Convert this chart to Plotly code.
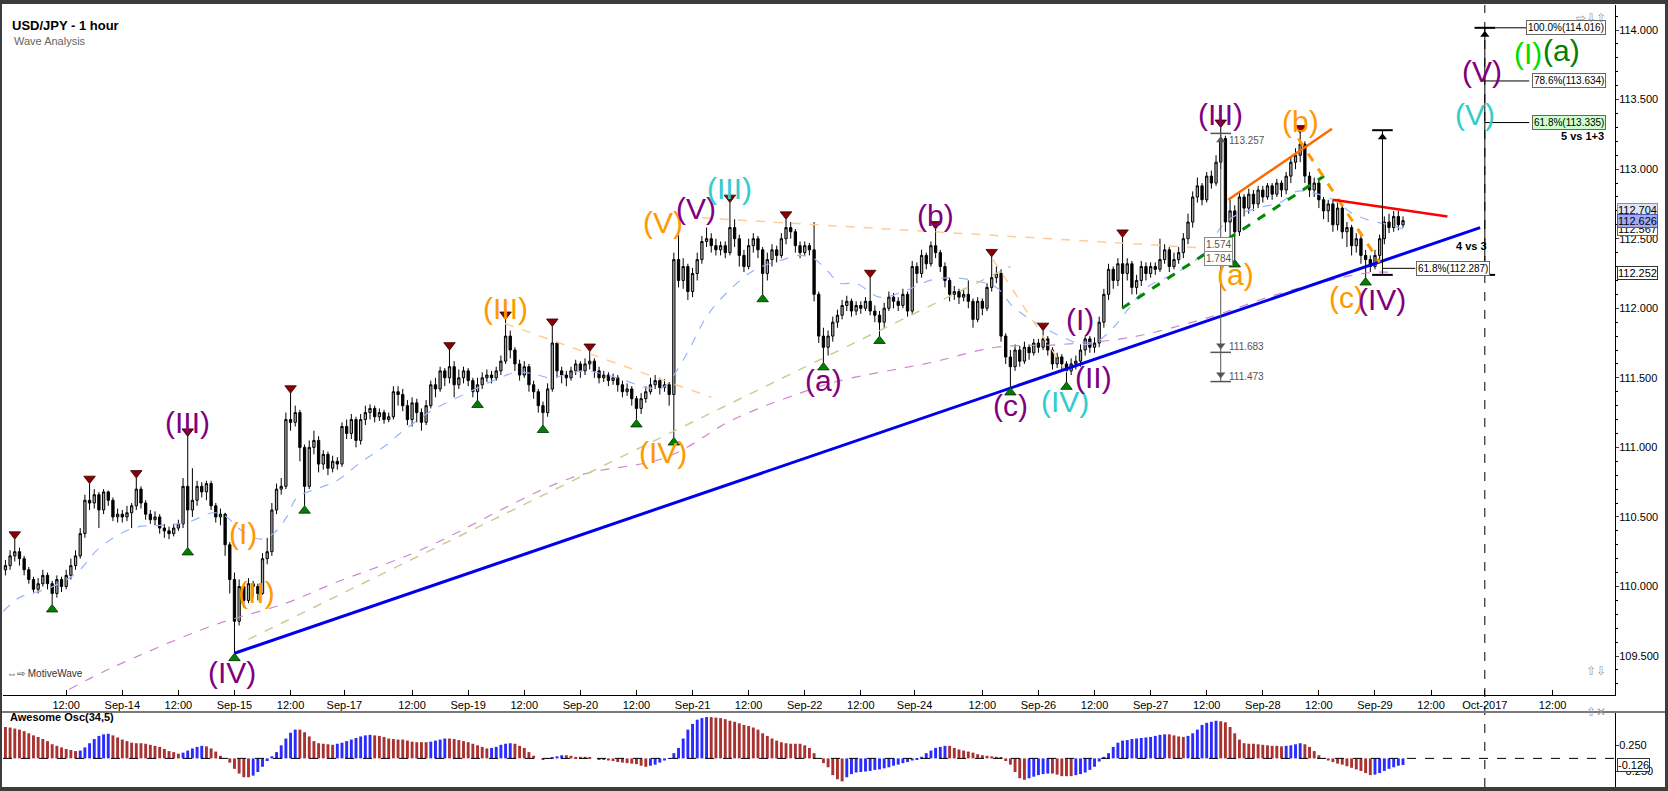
import plotly.graph_objects as go

# Chart size and plot-area margins (px)
W, H = 1668, 791
ML, MR = 3, 53

# ---------------- data ----------------
# hourly bars, hour 0 = Sep-14 00:00 (trading time, weekend gap removed)
first_hour = -25
first_open = 110.12

closes = [
    110.15, 110.22, 110.25, 110.20, 110.12, 110.05, 109.98, 110.02, 110.08, 110.02, 109.95, 110.05,
    110.00, 110.08, 110.15, 110.22, 110.38, 110.62, 110.60, 110.66, 110.55, 110.68, 110.62, 110.50,
    110.52, 110.50, 110.53, 110.58, 110.70, 110.60, 110.52, 110.48, 110.50, 110.42, 110.40, 110.38,
    110.42, 110.45, 110.72, 110.55, 110.62, 110.72, 110.68, 110.74, 110.58, 110.50, 110.52, 110.30,
    110.05, 109.75, 110.00, 109.90, 110.02, 110.00, 109.95, 110.20, 110.25, 110.55, 110.70, 110.72,
    111.20, 111.18, 111.25, 111.00, 110.72, 111.00, 111.05, 110.88, 110.95, 110.85, 110.90, 110.88,
    111.15, 111.10, 111.20, 111.05, 111.20, 111.25, 111.28, 111.22, 111.25, 111.20, 111.22, 111.40,
    111.38, 111.30, 111.20, 111.32, 111.25, 111.18, 111.30, 111.45, 111.42, 111.55, 111.50, 111.58,
    111.45, 111.50, 111.55, 111.48, 111.40, 111.45, 111.50, 111.52, 111.50, 111.55, 111.62, 111.80,
    111.70, 111.60, 111.52, 111.58, 111.45, 111.40, 111.30, 111.25, 111.42, 111.75, 111.55, 111.52,
    111.50, 111.55, 111.60, 111.55, 111.60, 111.62, 111.55, 111.50, 111.52, 111.48, 111.50, 111.45,
    111.40, 111.42, 111.35, 111.28, 111.35, 111.40, 111.45, 111.48, 111.43, 111.45, 111.38, 112.35,
    112.20, 112.30, 112.12, 112.25, 112.35, 112.48, 112.50, 112.45, 112.42, 112.45, 112.40, 112.58,
    112.50, 112.38, 112.30, 112.45, 112.50, 112.42, 112.25, 112.35, 112.42, 112.38, 112.50, 112.58,
    112.55, 112.45, 112.40, 112.45, 112.42, 112.10, 111.80, 111.72, 111.80, 111.90, 111.95, 112.02,
    112.05, 111.98, 112.02, 112.00, 112.05, 111.98, 111.95, 111.90, 112.00, 112.08, 112.05, 112.02,
    112.10, 111.98, 112.30, 112.25, 112.38, 112.32, 112.45, 112.40, 112.30, 112.20, 112.10, 112.12,
    112.08, 112.10, 112.05, 111.92, 112.05, 112.00, 112.15, 112.22, 112.25, 111.80, 111.65, 111.58,
    111.70, 111.62, 111.72, 111.68, 111.75, 111.72, 111.78, 111.70, 111.60, 111.65, 111.60, 111.55,
    111.60, 111.62, 111.70, 111.78, 111.72, 111.75, 111.90, 112.10, 112.28, 112.20, 112.32, 112.25,
    112.32, 112.15, 112.20, 112.30, 112.25, 112.30, 112.28, 112.35, 112.42, 112.30, 112.35, 112.40,
    112.50, 112.62, 112.80, 112.88, 112.78, 112.95, 112.90, 113.05, 113.22, 112.62, 112.70, 112.55,
    112.80, 112.72, 112.82, 112.75, 112.85, 112.80, 112.88, 112.82, 112.90, 112.85, 112.95, 113.05,
    113.10, 113.18, 112.95, 112.85, 112.90, 112.78, 112.70, 112.75, 112.60, 112.72, 112.55, 112.58,
    112.45, 112.50, 112.38, 112.35, 112.30, 112.38, 112.50, 112.62, 112.58, 112.66, 112.60, 112.63,
]
highs = [
    110.19, 110.26, 110.34, 110.28, 110.22, 110.14, 110.07, 110.06, 110.12, 110.10, 110.04, 110.08,
    110.07, 110.12, 110.20, 110.26, 110.42, 110.66, 110.74, 110.70, 110.68, 110.70, 110.69, 110.64,
    110.56, 110.55, 110.58, 110.60, 110.78, 110.72, 110.62, 110.55, 110.54, 110.52, 110.45, 110.43,
    110.45, 110.48, 110.78, 111.08, 110.85, 110.76, 110.75, 110.76, 110.76, 110.60, 110.56, 110.53,
    110.32, 110.10, 110.05, 110.02, 110.06, 110.04, 110.02, 110.24, 110.35, 110.60, 110.74, 110.78,
    111.25, 111.39, 111.30, 111.27, 111.02, 111.05, 111.12, 111.08, 110.98, 110.97, 110.94, 110.93,
    111.18, 111.20, 111.24, 111.22, 111.24, 111.30, 111.31, 111.30, 111.28, 111.27, 111.25, 111.44,
    111.44, 111.42, 111.34, 111.36, 111.35, 111.28, 111.34, 111.48, 111.50, 111.58, 111.57, 111.70,
    111.62, 111.56, 111.58, 111.57, 111.50, 111.50, 111.54, 111.56, 111.55, 111.58, 111.66, 111.92,
    111.84, 111.72, 111.63, 111.62, 111.60, 111.48, 111.42, 111.33, 111.46, 111.87, 111.76, 111.58,
    111.55, 111.58, 111.63, 111.62, 111.64, 111.69, 111.64, 111.58, 111.55, 111.54, 111.53, 111.52,
    111.48, 111.46, 111.44, 111.37, 111.39, 111.44, 111.50, 111.52, 111.50, 111.49, 111.47, 112.40,
    112.53, 112.36, 112.32, 112.29, 112.40, 112.52, 112.58, 112.54, 112.50, 112.48, 112.48, 112.76,
    112.64, 112.53, 112.42, 112.50, 112.54, 112.52, 112.44, 112.40, 112.46, 112.45, 112.54, 112.64,
    112.62, 112.57, 112.48, 112.48, 112.47, 112.62, 112.12, 111.86, 111.84, 111.94, 111.99, 112.06,
    112.09, 112.07, 112.05, 112.05, 112.08, 112.22, 112.02, 111.98, 112.04, 112.12, 112.11, 112.08,
    112.14, 112.12, 112.34, 112.33, 112.42, 112.40, 112.48, 112.57, 112.42, 112.33, 112.22, 112.16,
    112.14, 112.14, 112.20, 112.07, 112.08, 112.07, 112.18, 112.37, 112.30, 112.28, 111.82, 111.70,
    111.74, 111.73, 111.76, 111.74, 111.78, 111.78, 111.84, 111.80, 111.72, 111.68, 111.67, 111.62,
    111.64, 111.66, 111.74, 111.80, 111.80, 111.79, 111.94, 112.14, 112.32, 112.30, 112.36, 112.51,
    112.36, 112.34, 112.24, 112.34, 112.33, 112.33, 112.33, 112.50, 112.46, 112.44, 112.40, 112.44,
    112.54, 112.68, 112.84, 112.94, 112.90, 112.98, 112.99, 113.10, 113.30, 113.24, 112.78, 112.74,
    112.84, 112.82, 112.86, 112.85, 112.88, 112.88, 112.90, 112.90, 112.93, 112.92, 112.98, 113.09,
    113.15, 113.26, 113.20, 112.98, 112.94, 112.92, 112.80, 112.78, 112.78, 112.76, 112.74, 112.62,
    112.60, 112.54, 112.52, 112.42, 112.38, 112.42, 112.53, 112.66, 112.68, 112.70, 112.70, 112.66,
]
lows = [
    110.08, 110.12, 110.18, 110.15, 110.08, 110.02, 109.95, 109.95, 110.00, 109.98, 109.87, 109.92,
    109.96, 109.98, 110.05, 110.12, 110.20, 110.35, 110.55, 110.56, 110.42, 110.52, 110.58, 110.47,
    110.46, 110.46, 110.47, 110.42, 110.55, 110.56, 110.48, 110.45, 110.44, 110.38, 110.35, 110.34,
    110.36, 110.40, 110.42, 110.28, 110.50, 110.58, 110.64, 110.62, 110.55, 110.46, 110.44, 110.22,
    109.95, 109.52, 109.72, 109.85, 109.88, 109.92, 109.90, 109.94, 110.16, 110.22, 110.52, 110.66,
    110.70, 111.12, 111.15, 110.90, 110.58, 110.70, 110.95, 110.82, 110.84, 110.80, 110.82, 110.84,
    110.86, 111.06, 111.06, 111.00, 111.02, 111.16, 111.20, 111.18, 111.19, 111.17, 111.18, 111.20,
    111.30, 111.26, 111.16, 111.15, 111.18, 111.12, 111.16, 111.28, 111.36, 111.40, 111.44, 111.46,
    111.36, 111.42, 111.46, 111.44, 111.36, 111.34, 111.42, 111.47, 111.46, 111.48, 111.52, 111.60,
    111.64, 111.55, 111.48, 111.50, 111.40, 111.35, 111.25, 111.16, 111.22, 111.40, 111.50, 111.46,
    111.44, 111.48, 111.52, 111.50, 111.52, 111.56, 111.50, 111.46, 111.47, 111.44, 111.45, 111.40,
    111.36, 111.37, 111.30, 111.20, 111.24, 111.32, 111.38, 111.42, 111.38, 111.40, 111.30, 111.07,
    112.15, 112.14, 112.06, 112.08, 112.20, 112.32, 112.44, 112.40, 112.38, 112.38, 112.36, 112.38,
    112.44, 112.30, 112.26, 112.28, 112.40, 112.36, 112.10, 112.20, 112.30, 112.33, 112.36, 112.46,
    112.50, 112.40, 112.36, 112.38, 112.38, 112.05, 111.75, 111.61, 111.66, 111.76, 111.86, 111.92,
    111.98, 111.94, 111.95, 111.96, 111.98, 111.95, 111.90, 111.80, 111.86, 111.98, 112.00, 111.98,
    112.00, 111.94, 111.96, 112.18, 112.22, 112.28, 112.30, 112.36, 112.26, 112.15, 112.05, 112.06,
    112.03, 112.05, 112.00, 111.86, 111.90, 111.95, 111.98, 112.12, 112.18, 111.76, 111.60, 111.43,
    111.55, 111.58, 111.60, 111.63, 111.66, 111.68, 111.70, 111.66, 111.56, 111.57, 111.56, 111.47,
    111.52, 111.56, 111.58, 111.66, 111.68, 111.68, 111.72, 111.86, 112.06, 112.14, 112.16, 112.00,
    112.20, 112.10, 112.10, 112.16, 112.20, 112.22, 112.24, 112.26, 112.32, 112.26, 112.28, 112.32,
    112.36, 112.46, 112.58, 112.76, 112.74, 112.76, 112.86, 112.88, 113.00, 112.55, 112.40, 112.35,
    112.52, 112.66, 112.68, 112.70, 112.72, 112.76, 112.78, 112.78, 112.80, 112.80, 112.82, 112.90,
    113.00, 113.05, 112.90, 112.80, 112.80, 112.72, 112.64, 112.62, 112.55, 112.56, 112.50, 112.44,
    112.38, 112.40, 112.32, 112.22, 112.26, 112.28, 112.34, 112.46, 112.54, 112.55, 112.56, 112.58,
]

# Awesome Oscillator (34,5), one value per bar
ao_values = [
    0.60, 0.59, 0.57, 0.55, 0.52, 0.48, 0.44, 0.41, 0.37, 0.33,
    0.27, 0.24, 0.21, 0.18, 0.16, 0.14, 0.15, 0.21, 0.29, 0.37,
    0.43, 0.46, 0.47, 0.44, 0.40, 0.36, 0.33, 0.30, 0.29, 0.29,
    0.28, 0.26, 0.24, 0.22, 0.18, 0.14, 0.12, 0.09, 0.11, 0.15,
    0.19, 0.22, 0.24, 0.23, 0.19, 0.13, 0.05, 0.00, -0.08, -0.20,
    -0.29, -0.36, -0.36, -0.33, -0.26, -0.16, -0.05, 0.04, 0.12, 0.25,
    0.38, 0.49, 0.55, 0.55, 0.50, 0.42, 0.33, 0.29, 0.28, 0.27,
    0.26, 0.28, 0.30, 0.33, 0.36, 0.39, 0.42, 0.44, 0.45, 0.44,
    0.43, 0.41, 0.38, 0.37, 0.36, 0.36, 0.34, 0.32, 0.31, 0.31,
    0.31, 0.32, 0.34, 0.36, 0.38, 0.38, 0.37, 0.35, 0.33, 0.31,
    0.28, 0.25, 0.22, 0.19, 0.20, 0.22, 0.26, 0.28, 0.29, 0.28,
    0.24, 0.20, 0.12, 0.05, 0.00, -0.02, -0.01, 0.01, 0.04, 0.06,
    0.06, 0.05, 0.03, 0.03, 0.03, 0.02, 0.00, -0.02, -0.03, -0.04,
    -0.05, -0.07, -0.08, -0.09, -0.10, -0.11, -0.14, -0.16, -0.14, -0.12,
    -0.08, -0.04, -0.01, 0.10, 0.20, 0.38, 0.55, 0.66, 0.74, 0.77,
    0.79, 0.79, 0.78, 0.77, 0.75, 0.72, 0.70, 0.67, 0.64, 0.62,
    0.59, 0.55, 0.48, 0.43, 0.38, 0.34, 0.31, 0.29, 0.28, 0.28,
    0.28, 0.25, 0.20, 0.10, 0.00, -0.09, -0.17, -0.32, -0.40, -0.44,
    -0.36, -0.30, -0.27, -0.26, -0.25, -0.24, -0.22, -0.21, -0.19, -0.17,
    -0.14, -0.12, -0.09, -0.07, -0.04, -0.02, 0.03, 0.10, 0.15, 0.20,
    0.22, 0.24, 0.24, 0.20, 0.17, 0.15, 0.13, 0.11, 0.08, 0.06,
    0.05, 0.04, 0.03, 0.02, -0.05, -0.12, -0.26, -0.38, -0.41, -0.38,
    -0.35, -0.32, -0.30, -0.29, -0.29, -0.31, -0.34, -0.34, -0.34, -0.32,
    -0.30, -0.27, -0.22, -0.16, -0.06, 0.03, 0.10, 0.22, 0.30, 0.34,
    0.35, 0.37, 0.38, 0.39, 0.40, 0.41, 0.43, 0.45, 0.46, 0.46,
    0.44, 0.42, 0.41, 0.43, 0.48, 0.55, 0.64, 0.68, 0.70, 0.72,
    0.71, 0.69, 0.60, 0.48, 0.36, 0.29, 0.28, 0.28, 0.27, 0.26,
    0.25, 0.24, 0.24, 0.23, 0.24, 0.25, 0.27, 0.29, 0.27, 0.22,
    0.14, 0.06, -0.01, -0.04, -0.07, -0.10, -0.12, -0.15, -0.18, -0.21,
    -0.24, -0.28, -0.32, -0.31, -0.28, -0.24, -0.20, -0.17, -0.14, -0.126,
]

tick_hours = [-12, 0, 12, 24, 36, 47.5, 62, 74, 86, 98, 110, 122, 134, 146, 158, 169.5,
              184, 196, 208, 220, 232, 244, 256, 268, 280, 291.5, 306]
tick_labels = ["12:00", "Sep-14", "12:00", "Sep-15", "12:00", "Sep-17", "12:00", "Sep-19",
               "12:00", "Sep-20", "12:00", "Sep-21", "12:00", "Sep-22", "12:00", "Sep-24",
               "12:00", "Sep-26", "12:00", "Sep-27", "12:00", "Sep-28", "12:00", "Sep-29",
               "12:00", "Oct-2017", "12:00"]
price_ticks = [109.5, 110.0, 110.5, 111.0, 111.5, 112.0, 112.5, 113.0, 113.5, 114.0]

# moving averages
fast_ma_hours = [-25.5, -22, -15.5, -9.7, -4.8, 2.3, 8, 13.8, 19.5, 22.3, 25.2, 29.5, 32.3, 35.2,
                 37.4, 42.3, 45.9, 50.9, 56.6, 59.4, 66.5, 73.7, 79.4, 84.4, 87.9, 91.5, 98.6,
                 105.8, 112.2, 115.7, 118.6, 121.5, 125, 129.3, 135, 141.4, 145, 147.8, 150.8,
                 153.6, 157, 162, 167.8, 172.8, 177, 182, 187, 190.6, 195.7, 201.3, 205.6, 208.5,
                 212, 215.6, 219.2, 226.3, 232, 235, 237.8, 244, 247.7, 251.3, 254.8, 259, 263.3,
                 267, 271, 274]
fast_ma_vals = [109.82, 109.92, 109.99, 110.10, 110.28, 110.42, 110.44, 110.46, 110.53, 110.50,
                110.41, 110.34, 110.38, 110.50, 110.64, 110.71, 110.76, 110.89, 111.02, 111.10,
                111.27, 111.39, 111.48, 111.54, 111.53, 111.50, 111.55, 111.50, 111.43, 111.43,
                111.55, 111.72, 111.94, 112.11, 112.27, 112.35, 112.38, 112.36, 112.27, 112.18,
                112.18, 112.08, 112.13, 112.20, 112.22, 112.20, 112.15, 112.01, 111.89, 111.79,
                111.74, 111.76, 111.86, 112.01, 112.15, 112.27, 112.42, 112.58, 112.66, 112.73,
                112.76, 112.84, 112.83, 112.78, 112.68, 112.63, 112.60, 112.57]
slow_ma_hours = [-11.4, -2.6, 19.4, 35, 45, 63.7, 96, 116.5, 130.7, 145, 153.6, 173, 187, 201,
                 215.5, 233, 248, 265.5, 271]
slow_ma_vals = [109.26, 109.41, 109.72, 109.88, 110.02, 110.26, 110.78, 110.93, 111.20, 111.39,
                111.48, 111.61, 111.72, 111.74, 111.79, 111.94, 112.11, 112.25, 112.26]

# swing markers (bar hours)
swing_high_hours = [-23, -7, 3, 14, 36, 70, 82, 92, 100, 130, 142, 160, 174, 186, 197, 214, 235, 252]
swing_low_hours = [-15, 14, 24, 39, 76, 90, 110, 118, 137, 150, 162, 190, 202, 238, 266]

# drawn trend lines: (hours, prices)
blue_trend = ([24, 290.5], [109.52, 112.58])
tan_trend = ([27, 190], [109.62, 112.30])
peach_line_1 = ([81.9, 126], [111.89, 111.36])
peach_line_2 = ([124, 233], [112.65, 112.43])
peach_line_3 = ([186.3, 202], [112.35, 111.54])
green_channel = ([213.9, 257.1], [112.00, 112.95])
orange_channel = ([236.6, 258.8], [112.78, 113.29])
orange_bc = ([251.6, 269], [113.22, 112.33])
red_line = ([259, 283.5], [112.78, 112.66])

# fibonacci projection
fib_hour = 291.5
fib_levels = [114.016, 113.634, 113.335]
fib_texts = ["100.0%(114.016)", "78.6%(113.634)", "61.8%(113.335)"]
fib_low = 112.24
wave4_hour = 269.6
wave4_top = 113.28
wave4_fib = 112.287
wave3_hour = 235
wave3_top = 113.257
wave3_targets = [111.683, 111.473]

# ---------------- build ----------------
hours = list(range(first_hour, first_hour + len(closes)))
opens = [first_open] + closes[:-1]
ao_colors = ["#2b2bff" if i > 0 and ao_values[i] > ao_values[i - 1] else "#a83232"
             for i in range(len(ao_values))]

x_range = [-25.52, 319.35]
FONT = "Liberation Sans, Arial, sans-serif"


def px_x(px):
    return (px - ML) / (W - ML - MR)


def px_y(py):
    return (H - py) / H


fig = go.Figure()


def line(xy, color, width=1, dash="solid"):
    fig.add_trace(go.Scatter(x=xy[0], y=xy[1], mode="lines", hoverinfo="skip",
                             line=dict(color=color, width=width, dash=dash)))


fig.add_trace(go.Scatter(x=slow_ma_hours, y=slow_ma_vals, mode="lines", hoverinfo="skip",
                         line=dict(color="#cc88cc", width=1.2, dash="dash", shape="spline")))
fig.add_trace(go.Scatter(x=fast_ma_hours, y=fast_ma_vals, mode="lines", hoverinfo="skip",
                         line=dict(color="#99b4ff", width=1.2, dash="dash", shape="spline")))
line(tan_trend, "#cccc99", 1.5, "dash")
line(peach_line_1, "#ffcc99", 1.5, "dash")
line(peach_line_2, "#ffcc99", 1.5, "dash")
line(peach_line_3, "#ffcc99", 1.5, "dash")

fig.add_trace(go.Candlestick(
    x=hours, open=opens, high=highs, low=lows, close=closes,
    increasing=dict(fillcolor="#a8a8a8", line=dict(color="#000000", width=1)),
    decreasing=dict(fillcolor="#000000", line=dict(color="#000000", width=1)),
    whiskerwidth=0, hoverinfo="skip", showlegend=False))

line(blue_trend, "#0000ee", 3)
line(green_channel, "#008800", 3, "dash")
line(orange_channel, "#ff6a00", 2.5)
line(orange_bc, "#ff9900", 3, "dash")
line(red_line, "#ff0000", 2.5)

# measurement lines
line(([wave3_hour, wave3_hour], [wave3_top, wave3_targets[1]]), "#555555", 1)
for lvl in [wave3_top] + wave3_targets:
    line(([wave3_hour - 2.2, wave3_hour + 2.2], [lvl, lvl]), "#555555", 1.5)
line(([wave4_hour, wave4_hour], [fib_low, wave4_top]), "#000000", 1)
line(([wave4_hour - 2.2, wave4_hour + 2.2], [wave4_top, wave4_top]), "#000000", 2)
line(([wave4_hour - 2.2, wave4_hour + 2.2], [fib_low, fib_low]), "#000000", 2)
line(([wave4_hour, 276.6], [wave4_fib, wave4_fib]), "#000000", 1)
line(([fib_hour, fib_hour], [fib_low, fib_levels[0]]), "#000000", 1)
line(([fib_hour - 2.2, fib_hour + 2.2], [fib_levels[0], fib_levels[0]]), "#000000", 2)
line(([fib_hour - 2.2, fib_hour + 2.2], [fib_low, fib_low]), "#000000", 2)
for lvl in fib_levels:
    line(([fib_hour, 301.0], [lvl, lvl]), "#000000", 1)

# arrow heads
fig.add_trace(go.Scatter(
    x=[wave3_hour, wave4_hour, fib_hour], y=[wave3_top - 0.05, wave4_top - 0.05, fib_levels[0] - 0.05],
    mode="markers", hoverinfo="skip",
    marker=dict(symbol="triangle-up", size=8, color=["#555555", "#000000", "#000000"])))
fig.add_trace(go.Scatter(
    x=[wave3_hour, wave3_hour, fib_hour], y=[wave3_targets[0] + 0.05, wave3_targets[1] + 0.05, fib_low + 0.04],
    mode="markers", hoverinfo="skip",
    marker=dict(symbol="triangle-down", size=8, color=["#555555", "#555555", "#000000"])))

# swing markers
fig.add_trace(go.Scatter(
    x=swing_high_hours, y=[highs[h - first_hour] + 0.035 for h in swing_high_hours],
    mode="markers", hoverinfo="skip",
    marker=dict(symbol="triangle-down", size=10, color="#8b0000", line=dict(color="#300000", width=0.8))))
fig.add_trace(go.Scatter(
    x=swing_low_hours, y=[lows[h - first_hour] - 0.035 for h in swing_low_hours],
    mode="markers", hoverinfo="skip",
    marker=dict(symbol="triangle-up", size=10, color="#008000", line=dict(color="#003000", width=0.8))))

# Awesome oscillator
fig.add_trace(go.Bar(x=hours, y=ao_values, marker=dict(color=ao_colors, line=dict(width=0)),
                     width=0.62, xaxis="x2", yaxis="y2", hoverinfo="skip"))

# ---------------- annotations ----------------
PURPLE, ORANGE, CYAN = "#800080", "#ff9900", "#33cccc"
waves = [
    ("(III)", 13.9, 111.18, PURPLE), ("(IV)", 23.5, 109.38, PURPLE),
    ("(I)", 25.8, 110.38, ORANGE), ("(II)", 28.8, 109.96, ORANGE),
    ("(III)", 81.9, 112.00, ORANGE), ("(IV)", 115.7, 110.96, ORANGE),
    ("(V)", 115.7, 112.62, ORANGE), ("(V)", 122.8, 112.72, PURPLE),
    ("(III)", 130.0, 112.86, CYAN), ("(a)", 150.0, 111.48, PURPLE),
    ("(b)", 173.9, 112.67, PURPLE), ("(c)", 190.0, 111.30, PURPLE),
    ("(IV)", 201.7, 111.33, CYAN), ("(I)", 204.9, 111.92, PURPLE),
    ("(II)", 207.7, 111.50, PURPLE), ("(III)", 235.0, 113.39, PURPLE),
    ("(a)", 238.1, 112.24, ORANGE), ("(b)", 252.0, 113.34, ORANGE),
    ("(c)", 262.0, 112.08, ORANGE), ("(IV)", 269.5, 112.06, PURPLE),
    ("(V)", 291.0, 113.70, PURPLE), ("(V)", 289.5, 113.39, CYAN),
    ("(I)", 300.7, 113.83, "#00e000"), ("(a)", 308.0, 113.85, "#008000"),
]
ann = []
for txt, hx, py, col in waves:
    ann.append(dict(x=hx, y=py, xref="x", yref="y", text=txt, showarrow=False,
                    font=dict(size=30, color=col, family=FONT)))

small = dict(size=10, color="#555555", family=FONT)
ann.append(dict(x=wave3_hour + 1.3, y=wave3_top - 0.05, xref="x", yref="y", text="113.257",
                showarrow=False, xanchor="left", font=small))
for lvl in wave3_targets:
    ann.append(dict(x=wave3_hour + 1.3, y=lvl + 0.04, xref="x", yref="y", text=f"{lvl:.3f}",
                    showarrow=False, xanchor="left", font=small))
for txt, py in [("1.574", 112.46), ("1.784", 112.36)]:
    ann.append(dict(x=wave3_hour - 0.5, y=py, xref="x", yref="y", text=txt, showarrow=False,
                    font=small, bgcolor="white", bordercolor="#888888", borderwidth=1, borderpad=1))

for txt, lvl in zip(fib_texts, fib_levels):
    ann.append(dict(x=317.4, y=lvl, xref="x", yref="y", text=txt, showarrow=False, xanchor="right",
                    font=dict(size=10, color="#000000", family=FONT),
                    bgcolor="#ccffcc" if lvl == fib_levels[2] else "white",
                    bordercolor="#666666", borderwidth=1, borderpad=1))
ann.append(dict(x=292.6, y=wave4_fib, xref="x", yref="y", text="61.8%(112.287)", showarrow=False,
                xanchor="right", font=dict(size=10, color="#000000", family=FONT),
                bgcolor="white", bordercolor="#666666", borderwidth=1, borderpad=1))
ann.append(dict(x=317.4, y=113.24, xref="x", yref="y", text="<b>5 vs 1+3</b>", showarrow=False,
                xanchor="right", font=dict(size=11, color="#000000", family=FONT)))
ann.append(dict(x=292.4, y=112.45, xref="x", yref="y", text="<b>4 vs 3</b>", showarrow=False,
                xanchor="right", font=dict(size=11, color="#000000", family=FONT)))

# price tags on the right axis
for txt, py, bg, bd in [("112.704", 112.704, "#dfe5f7", "#7f8fc0"),
                        ("112.567", 112.567, "#ffffff", "#666666"),
                        ("112.626", 112.626, "#a3a9f5", "#4c55b8"),
                        ("112.252", 112.252, "#ffffff", "#333333")]:
    ann.append(dict(x=1, y=py, xref="paper", yref="y", text=txt, showarrow=False, xanchor="left",
                    xshift=2, font=dict(size=11, color="#000000", family=FONT),
                    bgcolor=bg, bordercolor=bd, borderwidth=1, borderpad=0))
ann.append(dict(x=1, y=-0.126, xref="paper", yref="y2", text="-0.126", showarrow=False,
                xanchor="left", xshift=2, font=dict(size=11, color="#000000", family=FONT),
                bgcolor="white", bordercolor="#333333", borderwidth=1, borderpad=0))

ann += [
    dict(x=px_x(10), y=px_y(16), xref="paper", yref="paper", text="<b>USD/JPY - 1 hour</b>",
         showarrow=False, xanchor="left", font=dict(size=13, color="#000000", family=FONT)),
    dict(x=px_x(12), y=px_y(33), xref="paper", yref="paper", text="Wave Analysis",
         showarrow=False, xanchor="left", font=dict(size=11, color="#666666", family=FONT)),
    dict(x=px_x(8), y=px_y(725), xref="paper", yref="paper", text="<b>Awesome Osc(34,5)</b>",
         showarrow=False, xanchor="left", font=dict(size=11, color="#000000", family=FONT)),
    dict(x=px_x(5), y=px_y(681), xref="paper", yref="paper", text="⇔⇨ MotiveWave",
         showarrow=False, xanchor="left", font=dict(size=10, color="#333333", family=FONT)),
    dict(x=px_x(1608), y=px_y(9), xref="paper", yref="paper", text="⇨⇩⇧",
         showarrow=False, xanchor="right", font=dict(size=12, color="#999999", family=FONT)),
    dict(x=px_x(1608), y=px_y(680), xref="paper", yref="paper", text="⇧⇩",
         showarrow=False, xanchor="right", font=dict(size=12, color="#999999", family=FONT)),
    dict(x=px_x(1608), y=px_y(721), xref="paper", yref="paper", text="⇧✕",
         showarrow=False, xanchor="right", font=dict(size=12, color="#999999", family=FONT)),
]

shapes = [
    # Oct-2017 separator
    dict(type="line", xref="x", yref="paper", x0=291.5, x1=291.5, y0=px_y(787), y1=px_y(5),
         line=dict(color="#000000", width=1, dash="dash")),
    # oscillator zero line
    dict(type="line", xref="x2", yref="y2", x0=x_range[0], x1=x_range[1], y0=0, y1=0,
         line=dict(color="#000000", width=1, dash="dash")),
    # panel separator and frame
    dict(type="line", xref="paper", yref="paper", x0=px_x(0), x1=px_x(W), y0=px_y(712), y1=px_y(712),
         line=dict(color="#7a7a7a", width=2)),
    dict(type="rect", xref="paper", yref="paper", x0=px_x(0), x1=px_x(W), y0=px_y(4), y1=px_y(0),
         fillcolor="#3c3c3c", line=dict(width=0)),
    dict(type="rect", xref="paper", yref="paper", x0=px_x(0), x1=px_x(W), y0=px_y(H), y1=px_y(787),
         fillcolor="#3c3c3c", line=dict(width=0)),
    dict(type="rect", xref="paper", yref="paper", x0=px_x(0), x1=px_x(2), y0=0, y1=1,
         fillcolor="#3c3c3c", line=dict(width=0)),
    dict(type="rect", xref="paper", yref="paper", x0=px_x(1665), x1=px_x(W), y0=0, y1=1,
         fillcolor="#3c3c3c", line=dict(width=0)),
]

fig.update_layout(
    width=W, height=H, margin=dict(l=ML, r=MR, t=0, b=0),
    paper_bgcolor="white", plot_bgcolor="white", showlegend=False,
    font=dict(family=FONT, size=11, color="#000000"),
    xaxis=dict(domain=[0, 1], range=x_range, anchor="y", tickmode="array",
               tickvals=tick_hours, ticktext=tick_labels, ticks="inside", ticklen=5,
               tickcolor="#000000", showline=True, linecolor="#000000", linewidth=1,
               showgrid=False, zeroline=False, rangeslider=dict(visible=False),
               automargin=False, tickfont=dict(size=11, family=FONT)),
    yaxis=dict(domain=[px_y(695), px_y(5)], range=[109.22, 114.18], side="right",
               tickvals=price_ticks, tickformat=".3f", ticks="outside", ticklen=3,
               ticklabelstandoff=-2, automargin=False,
               showline=True, linecolor="#000000", showgrid=False, zeroline=False,
               minor=dict(dtick=0.1, ticks="outside", ticklen=2, tickcolor="#000000"),
               tickfont=dict(size=11, family=FONT)),
    xaxis2=dict(domain=[0, 1], range=x_range, anchor="y2", showticklabels=False, ticks="",
                showline=False, showgrid=False, zeroline=False, automargin=False),
    yaxis2=dict(domain=[px_y(787), px_y(713)], range=[-0.547, 0.868], side="right",
                tickvals=[0.25, -0.25], tickformat=".3f", ticks="outside", ticklen=3,
                ticklabelstandoff=-2, automargin=False,
                showline=True, linecolor="#000000", showgrid=False, zeroline=False,
                tickfont=dict(size=11, family=FONT), anchor="x2"),
    annotations=ann, shapes=shapes,
)

# the page's default body margin would offset the figure inside the window
fig.write_html("out.html", config={"displayModeBar": False},
               post_script="document.body.style.margin = '0';")
